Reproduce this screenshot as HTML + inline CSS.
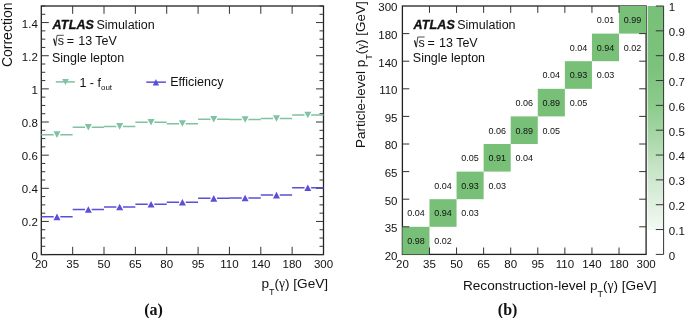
<!DOCTYPE html>
<html><head><meta charset="utf-8"><style>
html,body{margin:0;padding:0;background:#fff;overflow:hidden}
svg{display:block;will-change:transform}
text{font-family:"Liberation Sans", sans-serif;fill:#111}
.tl{font-size:11.5px}
.t12{font-size:12.5px}
.t13{font-size:13.6px}
.t9{font-size:9px}
.lab{font-family:"Liberation Serif", serif;font-weight:bold;font-size:16px}
</style></head><body>
<svg width="685" height="318" viewBox="0 0 685 318">
<rect x="41.3" y="6.0" width="282.20" height="248.60" fill="none" stroke="#222" stroke-width="1.3"/>
<path d="M41.30 254.60h7.5M323.50 254.60h-7.5M41.30 246.31h4M323.50 246.31h-4M41.30 238.03h4M323.50 238.03h-4M41.30 229.74h4M323.50 229.74h-4M41.30 221.45h7.5M323.50 221.45h-7.5M41.30 213.17h4M323.50 213.17h-4M41.30 204.88h4M323.50 204.88h-4M41.30 196.59h4M323.50 196.59h-4M41.30 188.31h7.5M323.50 188.31h-7.5M41.30 180.02h4M323.50 180.02h-4M41.30 171.73h4M323.50 171.73h-4M41.30 163.45h4M323.50 163.45h-4M41.30 155.16h7.5M323.50 155.16h-7.5M41.30 146.87h4M323.50 146.87h-4M41.30 138.59h4M323.50 138.59h-4M41.30 130.30h4M323.50 130.30h-4M41.30 122.01h7.5M323.50 122.01h-7.5M41.30 113.73h4M323.50 113.73h-4M41.30 105.44h4M323.50 105.44h-4M41.30 97.15h4M323.50 97.15h-4M41.30 88.87h7.5M323.50 88.87h-7.5M41.30 80.58h4M323.50 80.58h-4M41.30 72.29h4M323.50 72.29h-4M41.30 64.01h4M323.50 64.01h-4M41.30 55.72h7.5M323.50 55.72h-7.5M41.30 47.43h4M323.50 47.43h-4M41.30 39.15h4M323.50 39.15h-4M41.30 30.86h4M323.50 30.86h-4M41.30 22.57h7.5M323.50 22.57h-7.5M41.30 14.29h4M323.50 14.29h-4M41.30 6.00h4M323.50 6.00h-4M72.66 254.60v-7.8M72.66 6.00v7.8M104.01 254.60v-7.8M104.01 6.00v7.8M135.37 254.60v-7.8M135.37 6.00v7.8M166.72 254.60v-7.8M166.72 6.00v7.8M198.08 254.60v-7.8M198.08 6.00v7.8M229.43 254.60v-7.8M229.43 6.00v7.8M260.79 254.60v-7.8M260.79 6.00v7.8M292.14 254.60v-7.8M292.14 6.00v7.8" stroke="#333" stroke-width="1" fill="none"/>
<text x="37.8" y="259.60" text-anchor="end" class="tl">0</text>
<text x="37.8" y="226.45" text-anchor="end" class="tl">0.2</text>
<text x="37.8" y="193.31" text-anchor="end" class="tl">0.4</text>
<text x="37.8" y="160.16" text-anchor="end" class="tl">0.6</text>
<text x="37.8" y="127.01" text-anchor="end" class="tl">0.8</text>
<text x="37.8" y="93.87" text-anchor="end" class="tl">1</text>
<text x="37.8" y="60.72" text-anchor="end" class="tl">1.2</text>
<text x="37.8" y="27.57" text-anchor="end" class="tl">1.4</text>
<text x="41.30" y="267.8" text-anchor="middle" class="tl">20</text>
<text x="72.66" y="267.8" text-anchor="middle" class="tl">35</text>
<text x="104.01" y="267.8" text-anchor="middle" class="tl">50</text>
<text x="135.37" y="267.8" text-anchor="middle" class="tl">65</text>
<text x="166.72" y="267.8" text-anchor="middle" class="tl">80</text>
<text x="198.08" y="267.8" text-anchor="middle" class="tl">95</text>
<text x="229.43" y="267.8" text-anchor="middle" class="tl">110</text>
<text x="260.79" y="267.8" text-anchor="middle" class="tl">140</text>
<text x="292.14" y="267.8" text-anchor="middle" class="tl">180</text>
<text x="323.50" y="267.8" text-anchor="middle" class="tl">300</text>
<path d="M41.30 134.77H53.68M60.28 134.77H72.66M72.66 127.32H85.03M91.63 127.32H104.01M104.01 126.49H116.39M122.99 126.49H135.37M135.37 122.34H147.74M154.34 122.34H166.72M166.72 123.67H179.10M185.70 123.67H198.08M198.08 119.36H210.46M217.06 119.36H229.43M229.43 119.61H241.81M248.41 119.61H260.79M260.79 118.53H273.17M279.77 118.53H292.14M292.14 115.05H304.52M311.12 115.05H323.50" stroke="#80c2a2" stroke-width="1.5" fill="none"/>
<path d="M53.48 131.37h7.0l-3.50 6.6zM84.83 123.92h7.0l-3.50 6.6zM116.19 123.09h7.0l-3.50 6.6zM147.54 118.94h7.0l-3.50 6.6zM178.90 120.27h7.0l-3.50 6.6zM210.26 115.96h7.0l-3.50 6.6zM241.61 116.21h7.0l-3.50 6.6zM272.97 115.13h7.0l-3.50 6.6zM304.32 111.65h7.0l-3.50 6.6z" fill="#80c2a2"/>
<path d="M41.30 216.81H53.68M60.28 216.81H72.66M72.66 209.44H85.03M91.63 209.44H104.01M104.01 206.94H116.39M122.99 206.94H135.37M135.37 204.22H147.74M154.34 204.22H166.72M166.72 202.13H179.10M185.70 202.13H198.08M198.08 198.32H210.46M217.06 198.32H229.43M229.43 197.92H241.81M248.41 197.92H260.79M260.79 195.02H273.17M279.77 195.02H292.14M292.14 187.64H304.52M311.12 187.64H323.50" stroke="#5a50d8" stroke-width="1.5" fill="none"/>
<path d="M53.48 220.21h7.0l-3.50 -6.6zM84.83 212.84h7.0l-3.50 -6.6zM116.19 210.34h7.0l-3.50 -6.6zM147.54 207.62h7.0l-3.50 -6.6zM178.90 205.53h7.0l-3.50 -6.6zM210.26 201.72h7.0l-3.50 -6.6zM241.61 201.32h7.0l-3.50 -6.6zM272.97 198.42h7.0l-3.50 -6.6zM304.32 191.04h7.0l-3.50 -6.6z" fill="#5a50d8"/>
<text x="52.6" y="28.8" class="t12" font-weight="bold" font-style="italic" stroke="#111" stroke-width="0.35" letter-spacing="0.15">ATLAS</text>
<text x="96.40" y="28.8" class="t12">Simulation</text>
<path d="M53.70 38.70L55.60 45.50" stroke="#111" stroke-width="1.3" fill="none"/>
<path d="M55.60 45.50L57.00 35.30H63.80" stroke="#222" stroke-width="0.8" fill="none"/>
<text x="57.80" y="45.2" class="t12">s</text>
<text x="66.70" y="45.2" class="t12">=</text>
<text x="78.20" y="45.2" class="t12">13 TeV</text>
<text x="52.00" y="61.8" class="t12">Single lepton</text>
<path d="M55.8 81.9H74.9" stroke="#80c2a2" stroke-width="1.5"/>
<path d="M62.1 79.0h6.8l-3.4 6.1z" fill="#80c2a2"/>
<text x="79.4" y="86.5" class="t12">1 - f<tspan dy="3.3" font-size="8px">out</tspan></text>
<path d="M146.3 82.15H165.9" stroke="#5a50d8" stroke-width="1.5"/>
<path d="M152.75 85.6h6.3l-3.15 -6.6z" fill="#5a50d8"/>
<text x="170.2" y="86.1" class="t12">Efficiency</text>
<text x="328.1" y="288" text-anchor="end" class="t13">p<tspan dy="6.6" style="font-size:9px">T</tspan><tspan dy="-6.6">(</tspan><tspan style="font-family:'Liberation Serif',serif">γ</tspan>) [GeV]</text>
<text transform="translate(12.3,67.1) rotate(-90)" class="t13" style="font-size:14px">Correction</text>
<text x="153.5" y="314.5" text-anchor="middle" class="lab">(a)</text>
<rect x="402.4" y="6.0" width="243.70" height="248.40" fill="none" stroke="#222" stroke-width="1.3"/>
<rect x="402.40" y="226.80" width="27.08" height="27.60" fill="#78c078"/>
<rect x="429.48" y="199.20" width="27.08" height="27.60" fill="#78c078"/>
<rect x="456.56" y="171.60" width="27.08" height="27.60" fill="#78c078"/>
<rect x="483.63" y="144.00" width="27.08" height="27.60" fill="#78c078"/>
<rect x="510.71" y="116.40" width="27.08" height="27.60" fill="#78c078"/>
<rect x="537.79" y="88.80" width="27.08" height="27.60" fill="#78c078"/>
<rect x="564.87" y="61.20" width="27.08" height="27.60" fill="#78c078"/>
<rect x="591.94" y="33.60" width="27.08" height="27.60" fill="#78c078"/>
<rect x="619.02" y="6.00" width="27.08" height="27.60" fill="#78c078"/>
<text x="415.94" y="243.90" text-anchor="middle" class="t9">0.98</text>
<text x="443.02" y="243.90" text-anchor="middle" class="t9">0.02</text>
<text x="415.94" y="216.30" text-anchor="middle" class="t9">0.04</text>
<text x="443.02" y="216.30" text-anchor="middle" class="t9">0.94</text>
<text x="470.09" y="216.30" text-anchor="middle" class="t9">0.03</text>
<text x="443.02" y="188.70" text-anchor="middle" class="t9">0.04</text>
<text x="470.09" y="188.70" text-anchor="middle" class="t9">0.93</text>
<text x="497.17" y="188.70" text-anchor="middle" class="t9">0.03</text>
<text x="470.09" y="161.10" text-anchor="middle" class="t9">0.05</text>
<text x="497.17" y="161.10" text-anchor="middle" class="t9">0.91</text>
<text x="524.25" y="161.10" text-anchor="middle" class="t9">0.04</text>
<text x="497.17" y="133.50" text-anchor="middle" class="t9">0.06</text>
<text x="524.25" y="133.50" text-anchor="middle" class="t9">0.89</text>
<text x="551.33" y="133.50" text-anchor="middle" class="t9">0.05</text>
<text x="524.25" y="105.90" text-anchor="middle" class="t9">0.06</text>
<text x="551.33" y="105.90" text-anchor="middle" class="t9">0.89</text>
<text x="578.41" y="105.90" text-anchor="middle" class="t9">0.05</text>
<text x="551.33" y="78.30" text-anchor="middle" class="t9">0.04</text>
<text x="578.41" y="78.30" text-anchor="middle" class="t9">0.93</text>
<text x="605.48" y="78.30" text-anchor="middle" class="t9">0.03</text>
<text x="578.41" y="50.70" text-anchor="middle" class="t9">0.04</text>
<text x="605.48" y="50.70" text-anchor="middle" class="t9">0.94</text>
<text x="632.56" y="50.70" text-anchor="middle" class="t9">0.02</text>
<text x="605.48" y="23.10" text-anchor="middle" class="t9">0.01</text>
<text x="632.56" y="23.10" text-anchor="middle" class="t9">0.99</text>
<path d="M429.48 254.40v-6.9M429.48 6.00v6.9M402.40 226.80h6.9M646.10 226.80h-6.9M456.56 254.40v-6.9M456.56 6.00v6.9M402.40 199.20h6.9M646.10 199.20h-6.9M483.63 254.40v-6.9M483.63 6.00v6.9M402.40 171.60h6.9M646.10 171.60h-6.9M510.71 254.40v-6.9M510.71 6.00v6.9M402.40 144.00h6.9M646.10 144.00h-6.9M537.79 254.40v-6.9M537.79 6.00v6.9M402.40 116.40h6.9M646.10 116.40h-6.9M564.87 254.40v-6.9M564.87 6.00v6.9M402.40 88.80h6.9M646.10 88.80h-6.9M591.94 254.40v-6.9M591.94 6.00v6.9M402.40 61.20h6.9M646.10 61.20h-6.9M619.02 254.40v-6.9M619.02 6.00v6.9M402.40 33.60h6.9M646.10 33.60h-6.9" stroke="#333" stroke-width="1" fill="none"/>
<text x="402.40" y="267.8" text-anchor="middle" class="tl">20</text>
<text x="397.5" y="259.70" text-anchor="end" class="tl">20</text>
<text x="429.48" y="267.8" text-anchor="middle" class="tl">35</text>
<text x="397.5" y="232.10" text-anchor="end" class="tl">35</text>
<text x="456.56" y="267.8" text-anchor="middle" class="tl">50</text>
<text x="397.5" y="204.50" text-anchor="end" class="tl">50</text>
<text x="483.63" y="267.8" text-anchor="middle" class="tl">65</text>
<text x="397.5" y="176.90" text-anchor="end" class="tl">65</text>
<text x="510.71" y="267.8" text-anchor="middle" class="tl">80</text>
<text x="397.5" y="149.30" text-anchor="end" class="tl">80</text>
<text x="537.79" y="267.8" text-anchor="middle" class="tl">95</text>
<text x="397.5" y="121.70" text-anchor="end" class="tl">95</text>
<text x="564.87" y="267.8" text-anchor="middle" class="tl">110</text>
<text x="397.5" y="94.10" text-anchor="end" class="tl">110</text>
<text x="591.94" y="267.8" text-anchor="middle" class="tl">140</text>
<text x="397.5" y="66.50" text-anchor="end" class="tl">140</text>
<text x="619.02" y="267.8" text-anchor="middle" class="tl">180</text>
<text x="397.5" y="38.90" text-anchor="end" class="tl">180</text>
<text x="646.10" y="267.8" text-anchor="middle" class="tl">300</text>
<text x="397.5" y="11.30" text-anchor="end" class="tl">300</text>
<defs><linearGradient id="pg" x1="0" y1="1" x2="0" y2="0"><stop offset="0" stop-color="#ffffff"/><stop offset="0.099" stop-color="#ffffff"/><stop offset="0.1" stop-color="#f3f9f3"/><stop offset="0.2" stop-color="#e1f0e2"/><stop offset="0.35" stop-color="#c6e4c6"/><stop offset="0.5" stop-color="#a2d4a2"/><stop offset="0.6" stop-color="#8ccb8c"/><stop offset="0.75" stop-color="#7cc27c"/><stop offset="1" stop-color="#78c078"/></linearGradient></defs>
<rect x="647.6" y="6.0" width="16.00" height="248.40" fill="url(#pg)"/>
<text x="668.8" y="259.70" class="tl">0</text>
<text x="668.8" y="234.86" class="tl">0.1</text>
<text x="668.8" y="210.02" class="tl">0.2</text>
<text x="668.8" y="185.18" class="tl">0.3</text>
<text x="668.8" y="160.34" class="tl">0.4</text>
<text x="668.8" y="135.50" class="tl">0.5</text>
<text x="668.8" y="110.66" class="tl">0.6</text>
<text x="668.8" y="85.82" class="tl">0.7</text>
<text x="668.8" y="60.98" class="tl">0.8</text>
<text x="668.8" y="36.14" class="tl">0.9</text>
<text x="668.8" y="11.30" class="tl">1</text>
<path d="M663.60 6.00V254.40M663.60 254.40h-7.8M663.60 229.56h-7.8M663.60 204.72h-7.8M663.60 179.88h-7.8M663.60 155.04h-7.8M663.60 130.20h-7.8M663.60 105.36h-7.8M663.60 80.52h-7.8M663.60 55.68h-7.8M663.60 30.84h-7.8M663.60 6.00h-7.8" stroke="#333" stroke-width="1" fill="none"/>
<text x="413.4" y="28.8" class="t12" font-weight="bold" font-style="italic" stroke="#111" stroke-width="0.35" letter-spacing="0.15">ATLAS</text>
<text x="457.20" y="28.8" class="t12">Simulation</text>
<path d="M414.50 40.40L416.40 47.20" stroke="#111" stroke-width="1.3" fill="none"/>
<path d="M416.40 47.20L417.80 37.00H424.60" stroke="#222" stroke-width="0.8" fill="none"/>
<text x="418.60" y="46.9" class="t12">s</text>
<text x="427.50" y="46.9" class="t12">=</text>
<text x="439.00" y="46.9" class="t12">13 TeV</text>
<text x="412.80" y="61.9" class="t12">Single lepton</text>
<text x="656.6" y="290" text-anchor="end" class="t13">Reconstruction-level p<tspan dy="6.6" style="font-size:9px">T</tspan><tspan dy="-6.6">(</tspan><tspan style="font-family:'Liberation Serif',serif">γ</tspan>) [GeV]</text>
<text transform="translate(365.3,1.3) rotate(-90)" text-anchor="end" class="t13" style="font-size:13.45px">Particle-level p<tspan dy="6.6" style="font-size:9px">T</tspan><tspan dy="-6.6">(</tspan><tspan style="font-family:'Liberation Serif',serif">γ</tspan>) [GeV]</text>
<text x="507.6" y="314.5" text-anchor="middle" class="lab">(b)</text>
</svg>
</body></html>
